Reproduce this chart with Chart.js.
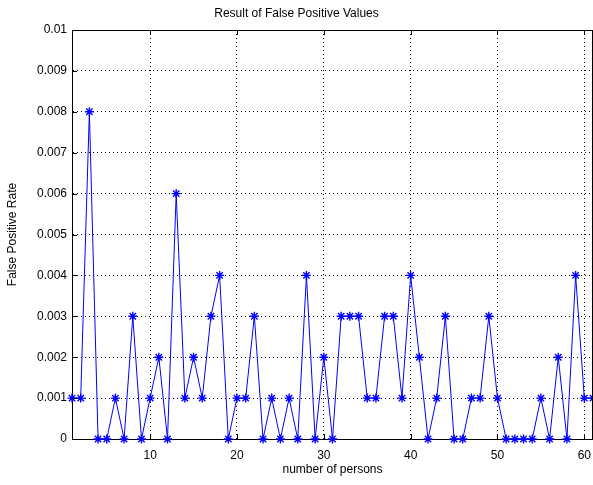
<!DOCTYPE html>
<html>
<head>
<meta charset="utf-8">
<script src="https://cdn.jsdelivr.net/npm/chart.js@4/dist/chart.umd.min.js"></script>
<style>
  body { margin: 0; background: #fff; }
</style>
</head>
<body>
<canvas id="myChart" width="593" height="485"></canvas>
<script>
// number of persons (x) and false positive rate (y)
const persons = [
  1, 2, 3, 4, 5, 6, 7, 8, 9, 10, 11, 12, 13, 14, 15, 16, 17, 18, 19, 20,
  21, 22, 23, 24, 25, 26, 27, 28, 29, 30, 31, 32, 33, 34, 35, 36, 37, 38, 39, 40,
  41, 42, 43, 44, 45, 46, 47, 48, 49, 50, 51, 52, 53, 54, 55, 56, 57, 58, 59, 60, 61
];
const fpRate = [
  0.001, 0.001, 0.008, 0, 0, 0.001, 0, 0.003, 0, 0.001,
  0.002, 0, 0.006, 0.001, 0.002, 0.001, 0.003, 0.004, 0, 0.001,
  0.001, 0.003, 0, 0.001, 0, 0.001, 0, 0.004, 0, 0.002,
  0, 0.003, 0.003, 0.003, 0.001, 0.001, 0.003, 0.003, 0.001, 0.004,
  0.002, 0, 0.001, 0.003, 0, 0, 0.001, 0.001, 0.003, 0.001,
  0, 0, 0, 0, 0.001, 0, 0.002, 0, 0.004, 0.001, 0.001
];
const xTicks = [10, 20, 30, 40, 50, 60];
const yTicks = [0, 0.001, 0.002, 0.003, 0.004, 0.005, 0.006, 0.007, 0.008, 0.009, 0.01];

const FONT = "'Liberation Sans', Arial, sans-serif";

// box around the plot + inward tick marks, matlab style
const boxPlugin = {
  id: "box",
  afterDraw(chart) {
    const { ctx, chartArea: a, scales } = chart;
    ctx.save();
    ctx.strokeStyle = "#000";
    ctx.lineWidth = 1;
    ctx.beginPath();
    ctx.moveTo(a.left, a.top + 0.5);
    ctx.lineTo(a.right, a.top + 0.5);
    ctx.moveTo(a.right - 0.5, a.top);
    ctx.lineTo(a.right - 0.5, a.bottom);
    xTicks.forEach((t) => {
      const x = Math.round(scales.x.getPixelForValue(t)) + 0.5;
      ctx.moveTo(x, a.bottom);
      ctx.lineTo(x, a.bottom - 5);
      ctx.moveTo(x, a.top);
      ctx.lineTo(x, a.top + 5);
    });
    yTicks.forEach((t) => {
      const y = Math.round(scales.y.getPixelForValue(t)) + 0.5;
      ctx.moveTo(a.left, y);
      ctx.lineTo(a.left + 5, y);
    });
    ctx.stroke();
    ctx.restore();
  },
};

const ctx = document.getElementById("myChart").getContext("2d");
new Chart(ctx, {
  type: "line",
  data: {
    datasets: [
      {
        label: "False Positive Rate",
        data: persons.map((p, i) => ({ x: p, y: fpRate[i] })),
        borderColor: "#0000ff",
        backgroundColor: "#0000ff",
        borderWidth: 1,
        pointStyle: "star",
        pointRadius: 4.5,
        pointBorderWidth: 1.4,
        pointBorderColor: "#0000ff",
        tension: 0,
        clip: false,
      },
    ],
  },
  options: {
    responsive: false,
    animation: false,
    layout: { padding: 0, autoPadding: false },
    plugins: {
      legend: { display: false },
      tooltip: { enabled: false },
      title: {
        display: true,
        text: "Result of False Positive Values",
        color: "#000",
        font: { family: FONT, size: 12, weight: "normal", lineHeight: 1.2 },
        padding: { top: 6, bottom: 9.6 },
      },
    },
    scales: {
      x: {
        type: "linear",
        min: 1,
        max: 61,
        afterBuildTicks: (scale) => {
          scale.ticks = xTicks.map((v) => ({ value: v }));
        },
        afterFit: (scale) => {
          scale.height = 46;
          scale.paddingLeft = 0;
          scale.paddingRight = 0;
        },
        ticks: {
          color: "#000",
          font: { family: FONT, size: 12 },
          padding: 9,
          maxRotation: 0,
        },
        grid: {
          color: "#000",
          lineWidth: 1,
          drawTicks: false,
        },
        border: { color: "#000", dash: [1, 3], display: true },
        title: {
          display: true,
          text: "number of persons",
          color: "#000",
          font: { family: FONT, size: 12, lineHeight: 1.2 },
          padding: { top: 0, bottom: 8 },
        },
      },
      y: {
        min: 0,
        max: 0.01,
        afterBuildTicks: (scale) => {
          scale.ticks = yTicks.map((v) => ({ value: v }));
        },
        afterFit: (scale) => {
          scale.width = 72;
          scale.paddingTop = 0;
          scale.paddingBottom = 0;
        },
        ticks: {
          color: "#000",
          font: { family: FONT, size: 12 },
          padding: 5,
          callback: (v) => String(Number(v.toFixed(3))),
        },
        grid: {
          color: "#000",
          lineWidth: 1,
          drawTicks: false,
        },
        border: { color: "#000", dash: [1, 3], display: true },
        title: {
          display: true,
          text: "False Positive Rate",
          color: "#000",
          font: { family: FONT, size: 12, lineHeight: 1.2 },
          padding: { top: 5, bottom: 0 },
        },
      },
    },
  },
  plugins: [boxPlugin],
});
</script>
</body>
</html>
